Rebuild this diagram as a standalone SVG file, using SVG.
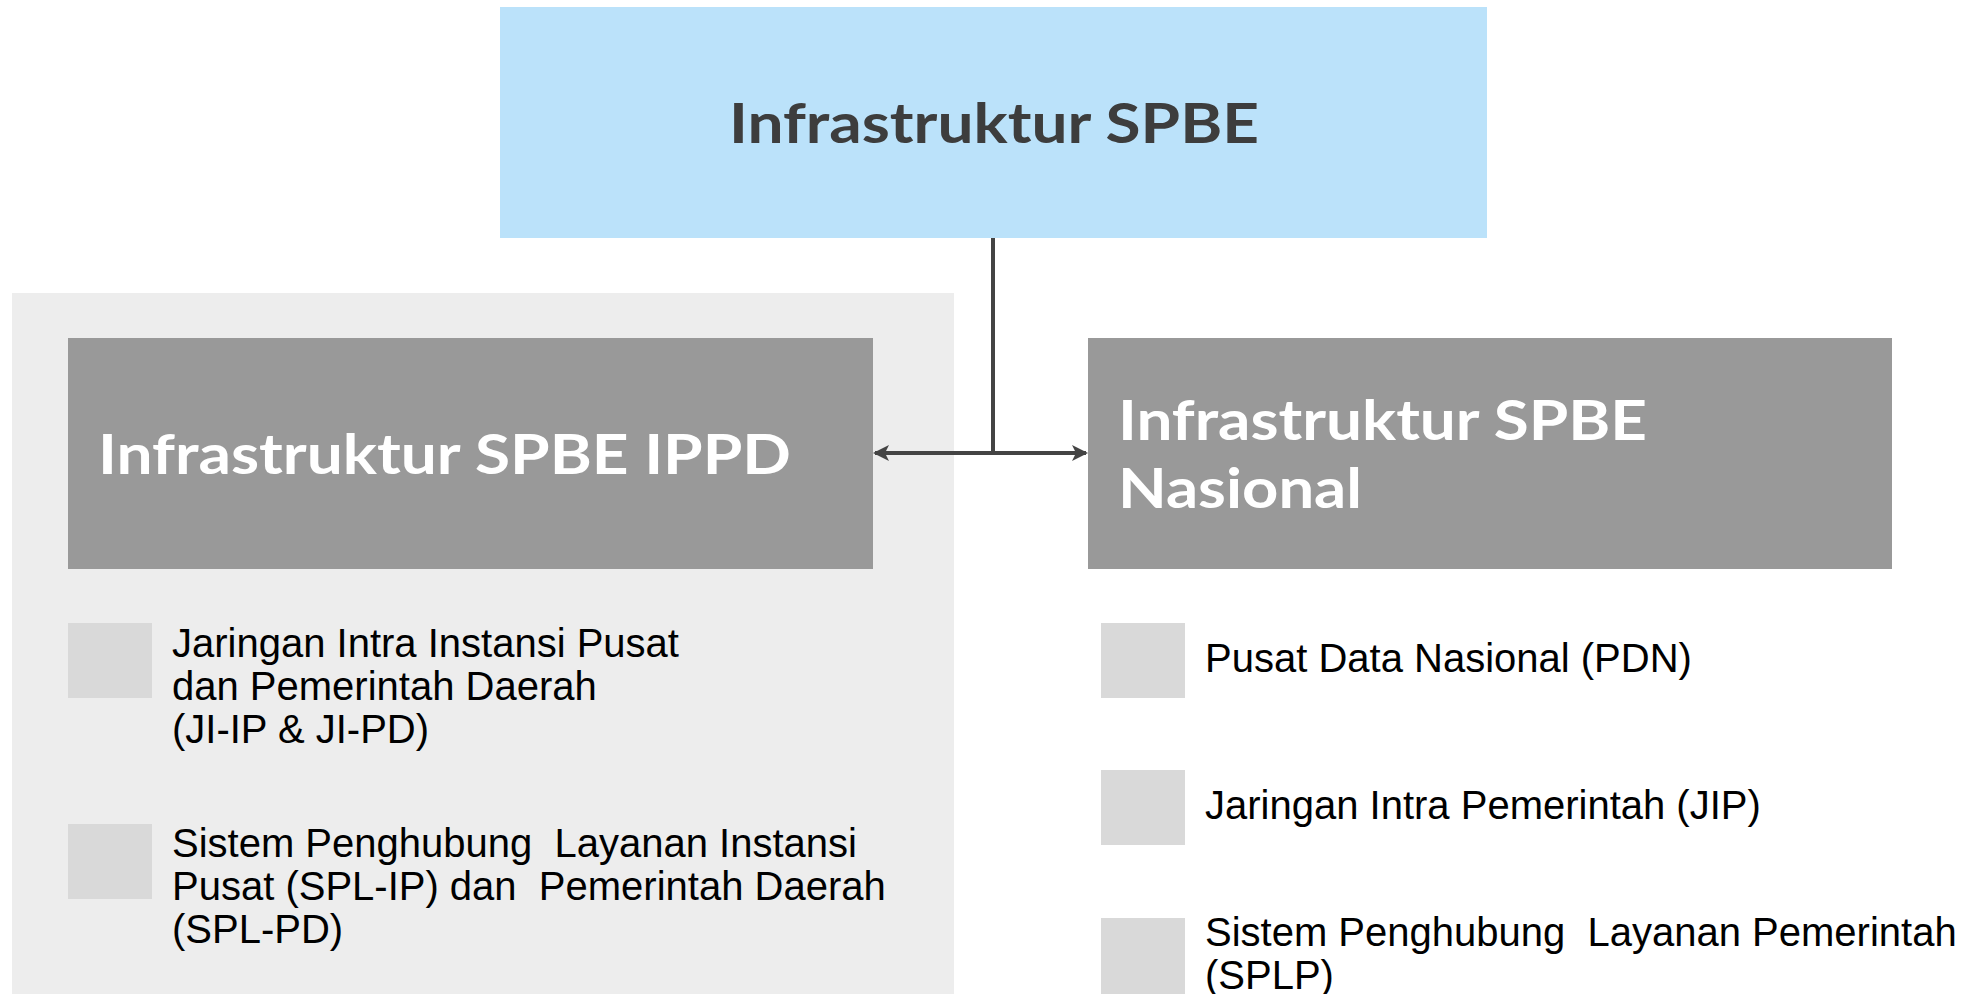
<svg xmlns="http://www.w3.org/2000/svg" width="1969" height="994" viewBox="0 0 1969 994">
  <defs>
    <style>
      .title { font-family: "Lato", "Noto Sans", "Liberation Sans", sans-serif; font-weight: 700; }
      .body { font-family: "Liberation Sans", Arial, sans-serif; font-size: 40px; fill: #000000; }
      .head { fill: #999999; }
      .bullet { fill: #d9d9d9; }
      .conn { stroke: #444444; stroke-width: 4; fill: none; }
    </style>
    <marker id="arrow" viewBox="0 0 16 16" refX="14" refY="8" markerWidth="16" markerHeight="16" markerUnits="userSpaceOnUse" orient="auto-start-reverse">
      <path d="M0,0 L16,8 L0,16 L4,8 Z" fill="#444444"/>
    </marker>
  </defs>
  <rect x="0" y="0" width="1969" height="994" fill="#ffffff"/>

  <g id="panel-ippd">
    <rect x="12" y="293" width="942" height="701" fill="#ededed"/>
  </g>

  <g id="node-root">
    <rect x="500" y="7" width="987" height="231" fill="#bbe2fa"/>
    <text class="title" x="729" y="143" font-size="56" fill="#3d3d3d" textLength="530" lengthAdjust="spacingAndGlyphs">Infrastruktur SPBE</text>
  </g>

  <g id="node-ippd">
    <rect class="head" x="68" y="338" width="805" height="231"/>
    <text class="title" x="98" y="474" font-size="56" fill="#ffffff" textLength="693" lengthAdjust="spacingAndGlyphs">Infrastruktur SPBE IPPD</text>
  </g>

  <g id="node-nasional">
    <rect class="head" x="1088" y="338" width="804" height="231"/>
    <text class="title" font-size="56" fill="#ffffff">
      <tspan x="1118" y="440" textLength="529" lengthAdjust="spacingAndGlyphs">Infrastruktur SPBE</tspan>
      <tspan x="1118" y="508" textLength="244" lengthAdjust="spacingAndGlyphs">Nasional</tspan>
    </text>
  </g>

  <g id="item-ji">
    <rect class="bullet" x="68" y="623" width="84" height="75"/>
    <text class="body">
      <tspan x="172" y="657">Jaringan Intra Instansi Pusat</tspan>
      <tspan x="172" y="700">dan Pemerintah Daerah</tspan>
      <tspan x="172" y="743">(JI-IP &amp; JI-PD)</tspan>
    </text>
  </g>

  <g id="item-spl">
    <rect class="bullet" x="68" y="824" width="84" height="75"/>
    <text class="body" xml:space="preserve">
      <tspan x="172" y="857">Sistem Penghubung  Layanan Instansi</tspan>
      <tspan x="172" y="900">Pusat (SPL-IP) dan  Pemerintah Daerah</tspan>
      <tspan x="172" y="943">(SPL-PD)</tspan>
    </text>
  </g>

  <g id="item-pdn">
    <rect class="bullet" x="1101" y="623" width="84" height="75"/>
    <text class="body" x="1205" y="672">Pusat Data Nasional (PDN)</text>
  </g>

  <g id="item-jip">
    <rect class="bullet" x="1101" y="770" width="84" height="75"/>
    <text class="body" x="1205" y="819">Jaringan Intra Pemerintah (JIP)</text>
  </g>

  <g id="item-splp">
    <rect class="bullet" x="1101" y="918" width="84" height="76"/>
    <text class="body" xml:space="preserve">
      <tspan x="1205" y="946">Sistem Penghubung  Layanan Pemerintah</tspan>
      <tspan x="1205" y="989">(SPLP)</tspan>
    </text>
  </g>

  <g id="connectors">
    <line class="conn" x1="993" y1="238" x2="993" y2="453"/>
    <line class="conn" x1="993" y1="453" x2="875" y2="453" marker-end="url(#arrow)"/>
    <line class="conn" x1="993" y1="453" x2="1086" y2="453" marker-end="url(#arrow)"/>
  </g>
</svg>
